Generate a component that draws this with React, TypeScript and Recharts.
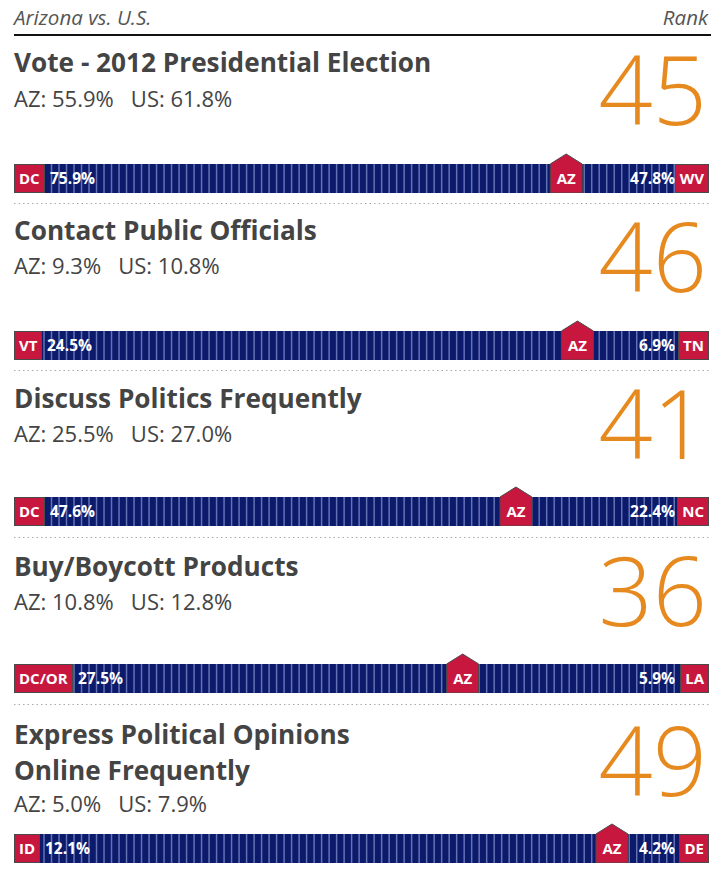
import React from "react";
import { ScatterChart, Scatter, XAxis, YAxis, ReferenceArea, ReferenceLine } from "recharts";

const TITLES = [
  ["Vote - 2012 Presidential Election"],
  ["Contact Public Officials"],
  ["Discuss Politics Frequently"],
  ["Buy/Boycott Products"],
  ["Express Political Opinions", "Online Frequently"],
];
const AZ_VALUES = [55.9, 9.3, 25.5, 10.8, 5.0];
const US_VALUES = [61.8, 10.8, 27.0, 12.8, 7.9];
const RANKS = [45, 46, 41, 36, 49];
const TOP_STATES = ["DC", "VT", "DC", "DC/OR", "ID"];
const TOP_VALUES = [75.9, 24.5, 47.6, 27.5, 12.1];
const BOTTOM_STATES = ["WV", "TN", "NC", "LA", "DE"];
const BOTTOM_VALUES = [47.8, 6.9, 22.4, 5.9, 4.2];
// where the AZ marker sits along the strip (in stripe units, 0 = best state)
const AZ_POSITIONS = [73.6, 75.1, 66.9, 59.8, 79.7];
const STRIP_MAX = 92.5;
const STRIPES = Array.from({ length: 92 }, (_, k) => k + 1);

// layout
const BAR_TOPS = [164, 331, 497, 664, 834];
const TITLE_BASE = [72, 240, 408, 576, 744];
const AZ_BASE = [107, 274, 442, 610, 812];
const RANK_BASE = [125, 292, 459, 626, 796];
const SEPARATORS = [203, 370, 537, 704];

const NAVY = "#0b1a6b";
const STRIPE = "#6572b2";
const RED = "#c8173f";
const ORANGE = "#e68a1f";
const TEXT = "#444";
const FONT = "'Open Sans', sans-serif";

const pct = (v: number) => `${v.toFixed(1)}%`;

function AzMarker(props: any) {
  const { cx, cy } = props;
  const w = 16;
  const h = 14.5;
  return (
    <g>
      <path
        d={`M${cx - w},${cy + h} L${cx - w},${cy - h} L${cx},${cy - h - 10} L${cx + w},${cy - h} L${cx + w},${cy + h} Z`}
        fill={RED}
        stroke="#4a4a4a"
        strokeWidth={1}
      />
      <text x={cx} y={cy + 5.5} textAnchor="middle" fill="#fff" fontFamily={FONT} fontWeight={700} fontSize={15}>
        AZ
      </text>
    </g>
  );
}

const boxStyle: React.CSSProperties = {
  position: "absolute",
  top: 11,
  height: 29,
  boxSizing: "border-box",
  background: RED,
  border: "1px solid #4a4a4a",
  color: "#fff",
  fontFamily: FONT,
  fontWeight: 700,
  fontSize: 15,
  lineHeight: "27px",
  padding: "0 4px",
  whiteSpace: "nowrap",
};

const valueStyle: React.CSSProperties = {
  position: "absolute",
  top: 11,
  height: 29,
  color: "#fff",
  fontFamily: FONT,
  fontWeight: 700,
  fontSize: 15.5,
  lineHeight: "29px",
  whiteSpace: "nowrap",
};

function Strip({ i }: { i: number }) {
  const data = [{ x: AZ_POSITIONS[i], y: 0.5 }];
  const leftBoxRef = React.useRef<HTMLDivElement>(null);
  const [leftW, setLeftW] = React.useState(28);
  React.useLayoutEffect(() => {
    if (leftBoxRef.current) setLeftW(leftBoxRef.current.offsetWidth);
  }, []);
  return (
    <div style={{ position: "absolute", left: 14, top: BAR_TOPS[i] - 11, width: 694, height: 40 }}>
      <ScatterChart width={694} height={40} margin={{ top: 11, right: 0, bottom: 0, left: 0 }}>
        <XAxis type="number" dataKey="x" domain={[0, STRIP_MAX]} hide allowDataOverflow />
        <YAxis type="number" dataKey="y" domain={[0, 1]} hide />
        <ReferenceArea x1={0} x2={STRIP_MAX} y1={0} y2={1} fill={NAVY} fillOpacity={1} stroke="none" />
        {STRIPES.map((s) => (
          <ReferenceLine key={s} x={s} stroke={STRIPE} strokeWidth={1.5} />
        ))}
        <Scatter data={data} dataKey="y" isAnimationActive={false} shape={AzMarker} />
      </ScatterChart>
      <div ref={leftBoxRef} style={{ ...boxStyle, left: 0 }}>
        {TOP_STATES[i]}
      </div>
      <div style={{ ...valueStyle, left: leftW + 5 }}>{pct(TOP_VALUES[i])}</div>
      <div style={{ ...valueStyle, right: 33 }}>{pct(BOTTOM_VALUES[i])}</div>
      <div style={{ ...boxStyle, right: -1 }}>{BOTTOM_STATES[i]}</div>
    </div>
  );
}

export default function App() {
  return (
    <div style={{ position: "absolute", left: 0, top: 0, width: 711, height: 873, background: "#fff" }}>
      <svg width={711} height={873} style={{ position: "absolute", left: 0, top: 0 }}>
        <text x={14} y={25} fontFamily={FONT} fontStyle="italic" fontSize={20.5} fill="#555">
          Arizona vs. U.S.
        </text>
        <text x={708} y={25} textAnchor="end" fontFamily={FONT} fontStyle="italic" fontSize={20.5} fill="#555">
          Rank
        </text>
        <line x1={14} x2={711} y1={35} y2={35} stroke="#111" strokeWidth={2} />
        {SEPARATORS.map((y) => (
          <line key={y} x1={14} x2={711} y1={y + 0.5} y2={y + 0.5} stroke="#aaa" strokeWidth={1} strokeDasharray="1.5 3" />
        ))}
        {TITLES.map((lines, i) => (
          <g key={i}>
            {lines.map((t, j) => (
              <text key={j} x={14} y={TITLE_BASE[i] + j * 36} fontFamily={FONT} fontWeight={700} fontSize={26.2} fill={TEXT}>
                {t}
              </text>
            ))}
            <text x={14} y={AZ_BASE[i]} fontFamily={FONT} fontSize={22} fill={TEXT} xmlSpace="preserve">
              {`AZ: ${pct(AZ_VALUES[i])}   US: ${pct(US_VALUES[i])}`}
            </text>
            <text x={707} y={RANK_BASE[i]} textAnchor="end" fontFamily={FONT} fontWeight={300} fontSize={95} fill={ORANGE}>
              {RANKS[i]}
            </text>
          </g>
        ))}
      </svg>
      {TITLES.map((_, i) => (
        <Strip key={i} i={i} />
      ))}
    </div>
  );
}
